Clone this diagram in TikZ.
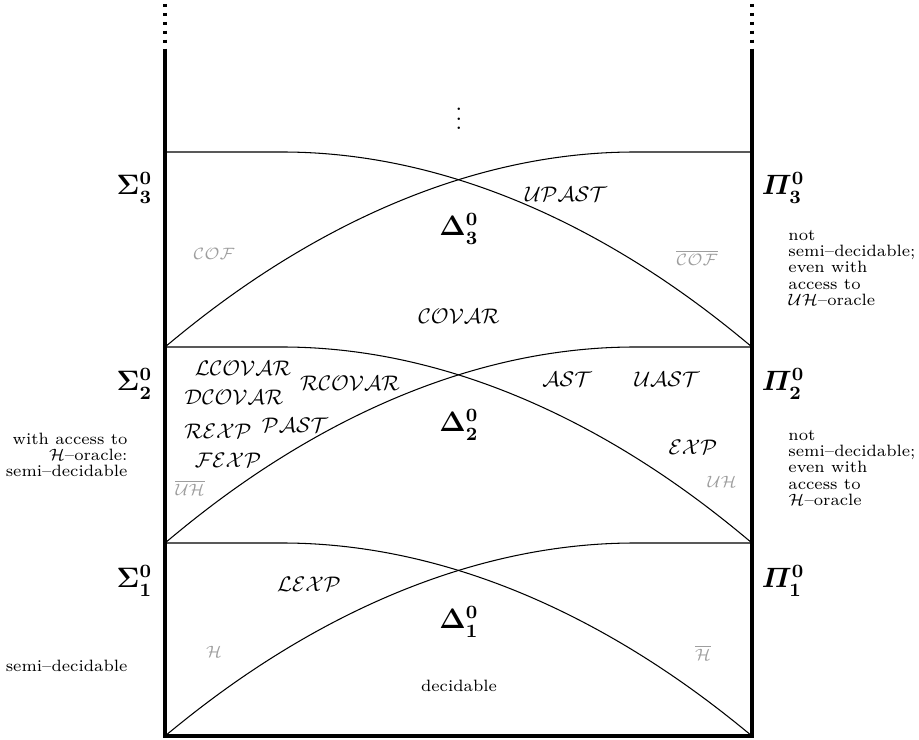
\documentclass[tikz,border=0pt]{standalone}
\usepackage{amsmath,amssymb}
\usepackage{tikz}
\usetikzlibrary{positioning}
\definecolor{greylbl}{gray}{0.62}
\tikzset{
  wall/.style={line width=1.3pt},
  wallend/.style={line width=1.3pt,dash pattern=on 1.3pt off 2.5pt},
  bendline/.style={line width=0.45pt},
  levelname/.style={font=\large,inner sep=1pt},
  problem/.style={font=\small,inner sep=1pt},
  faint/.style={text=greylbl,font=\scriptsize,inner sep=1pt},
  sidenote/.style={font=\fontsize{7}{6.9}\selectfont,inner sep=0pt}
}

\begin{document}
\begin{tikzpicture}[x=0.015cm,y=-0.015cm]
  \useasboundingbox (0,0) rectangle (919,740);
  % walls of the hierarchy
  \coordinate (lefttop) at (165,52);
  \coordinate (leftbot) at (165,736);
  \coordinate (righttop) at (752,52);
  \coordinate (rightbot) at (752,736);
  \coordinate (leftdots) at (165,4);
  \coordinate (rightdots) at (752,4);
  \draw[wall] (lefttop) -- (leftbot) -- (rightbot) -- (righttop);
  \draw[wallend] (leftdots) -- (lefttop);
  \draw[wallend] (rightdots) -- (righttop);
  % the three levels, each one with its two bent borders
  \foreach \top/\bot in {152/347,347/543,543/736}{
    \draw[bendline] (165,\top) -- (282,\top) parabola (752,\bot);
    \draw[bendline] (752,\top) -- (635,\top) parabola (165,\bot);
  }
  \node (more) at (459,112) {$\vdots$};

  % level names
  \node[levelname,anchor=east] (sig3) at (155,188) {$\boldsymbol{\Sigma^0_3}$};
  \node[levelname,anchor=west] (pi3) at (759,188) {$\boldsymbol{\varPi^0_3}$};
  \node[levelname] (del3) at (459,229) {$\boldsymbol{\Delta^0_3}$};
  \node[levelname,anchor=east] (sig2) at (155,384) {$\boldsymbol{\Sigma^0_2}$};
  \node[levelname,anchor=west] (pi2) at (759,384) {$\boldsymbol{\varPi^0_2}$};
  \node[levelname] (del2) at (459,425) {$\boldsymbol{\Delta^0_2}$};
  \node[levelname,anchor=east] (sig1) at (155,581) {$\boldsymbol{\Sigma^0_1}$};
  \node[levelname,anchor=west] (pi1) at (759,581) {$\boldsymbol{\varPi^0_1}$};
  \node[levelname] (del1) at (459,622) {$\boldsymbol{\Delta^0_1}$};

  % problems on level 3
  \node[problem] (upast) at (566,194) {$\mathcal{UPAST}$};
  \node[problem] (covar) at (459,316) {$\mathcal{COVAR}$};
  \node[faint] (cof) at (214,254) {$\mathcal{COF}$};
  \node[faint] (cofbar) at (697,258) {$\overline{\mathcal{COF}}$};

  % problems on level 2
  \node[problem] (lcovar) at (243,368) {$\mathcal{LCOVAR}$};
  \node[problem] (rcovar) at (350,383) {$\mathcal{RCOVAR}$};
  \node[problem] (dcovar) at (234,397) {$\mathcal{DCOVAR}$};
  \node[problem] (rexp) at (218,431) {$\mathcal{REXP}$};
  \node[problem] (past) at (295,425) {$\mathcal{PAST}$};
  \node[problem] (fexp) at (228,460) {$\mathcal{FEXP}$};
  \node[faint] (uhbar) at (190,488) {$\overline{\mathcal{UH}}$};
  \node[problem] (ast) at (567,379) {$\mathcal{AST}$};
  \node[problem] (uast) at (667,379) {$\mathcal{UAST}$};
  \node[problem] (exp) at (693,447) {$\mathcal{EXP}$};
  \node[faint] (uh) at (722,482) {$\mathcal{UH}$};

  % problems on level 1
  \node[problem] (lexp) at (309,584) {$\mathcal{LEXP}$};
  \node[faint] (halt) at (214,652) {$\mathcal{H}$};
  \node[faint] (haltbar) at (703,653) {$\overline{\mathcal{H}}$};
  \node[sidenote] (dec) at (459,686) {decidable};

  % notes beside the walls
  \node[sidenote,align=left,anchor=west] (note3) at (788,268) {not\\semi--decidable;\\even with\\access to\\$\mathcal{UH}$--oracle};
  \node[sidenote,align=left,anchor=west] (note2) at (788,468) {not\\semi--decidable;\\even with\\access to\\$\mathcal{H}$--oracle};
  \node[sidenote,align=right,anchor=east] (note2l) at (128,455) {with access to\\$\mathcal{H}$--oracle:\\semi--decidable};
  \node[sidenote,anchor=east] (note1l) at (128,666) {semi--decidable};
\end{tikzpicture}
\end{document}
